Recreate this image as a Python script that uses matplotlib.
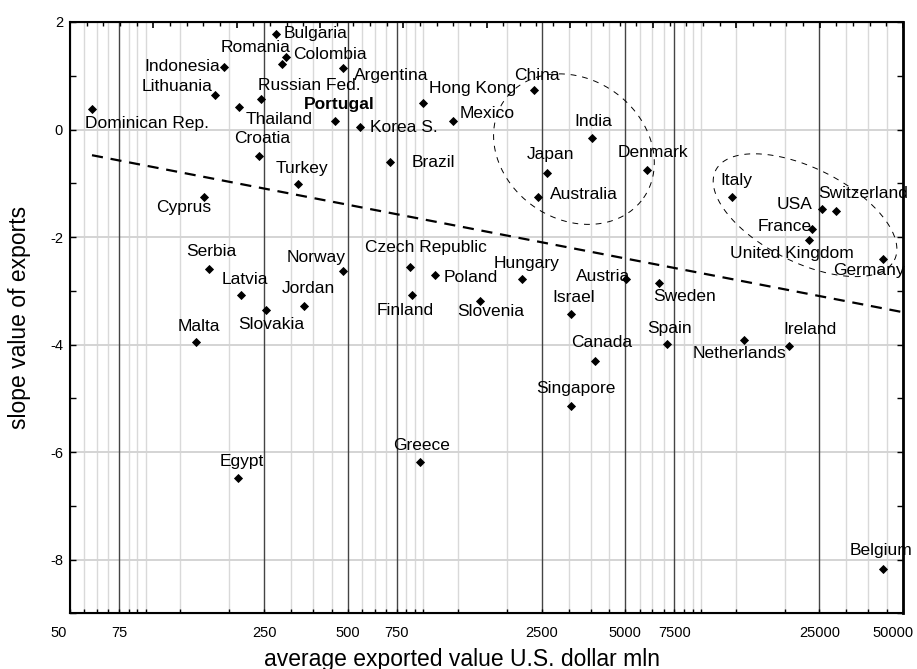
import numpy as np
import matplotlib
matplotlib.use("Agg")
import matplotlib.pyplot as plt
from matplotlib.ticker import FixedLocator, MultipleLocator, NullFormatter
from matplotlib.transforms import ScaledTranslation

plt.rcParams["font.family"] = ["Liberation Sans", "DejaVu Sans"]
plt.rcParams["axes.unicode_minus"] = False

# average exported value (US$ mln) and slope of exports per country
COUNTRIES = [
    "Dominican Rep.", "Indonesia", "Lithuania", "Thailand", "Russian Fed.",
    "Bulgaria", "Romania", "Colombia", "Argentina", "Portugal", "Korea S.",
    "Brazil", "Hong Kong", "Mexico", "Croatia", "Turkey", "Cyprus",
    "China", "India", "Japan", "Australia", "Denmark", "Italy", "USA",
    "Switzerland", "France", "United Kingdom", "Germany", "Hungary",
    "Austria", "Sweden", "Slovenia", "Israel", "Canada", "Spain",
    "Netherlands", "Ireland", "Singapore", "Serbia", "Latvia", "Slovakia",
    "Jordan", "Norway", "Malta", "Czech Republic", "Poland", "Finland",
    "Egypt", "Greece", "Belgium",
]
EXPORT_VALUE = [
    60, 180, 166, 203, 244,
    276, 290, 301, 483, 450, 552,
    710, 931, 1200, 240, 332, 152,
    2349, 3780, 2604, 2429, 5965, 12100, 25450,
    28650, 23430, 22960, 42200, 2126,
    5025, 6590, 1494, 3184, 3897, 7055,
    13365, 19400, 3184, 158, 206, 253,
    349, 481, 142.5, 838, 1031, 854,
    201, 910, 42200,
]
SLOPE = [
    0.38, 1.17, 0.635, 0.417, 0.566,
    1.78, 1.22, 1.354, 1.138, 0.151, 0.039,
    -0.613, 0.492, 0.151, -0.495, -1.022, -1.259,
    0.728, -0.155, -0.806, -1.259, -0.762, -1.259, -1.488,
    -1.520, -1.860, -2.060, -2.40, -2.786,
    -2.78, -2.847, -3.19, -3.425, -4.30, -3.996,
    -3.92, -4.03, -5.138, -2.594, -3.084, -3.35,
    -3.276, -2.624, -3.959, -2.549, -2.706, -3.084,
    -6.49, -6.19, -8.17,
]

# regression line: slope = a + b * log10(value)
TREND_A = 1.30
TREND_B = -1.0
TREND_RANGE = [60, 50000]

X_TICKS = [50, 75, 250, 500, 750, 2500, 5000, 7500, 25000, 50000]
Y_TICKS = [2, 0, -2, -4, -6, -8]

# label placement: offset in pixels from the marker, horizontal alignment
LABEL_POS = {
    "Dominican Rep.": (-7, -14, "left"), "Indonesia": (-4, 0, "right"),
    "Lithuania": (-2, 9, "right"), "Thailand": (7, -12, "left"),
    "Russian Fed.": (-3, 14, "left"), "Bulgaria": (8, 0, "left"),
    "Romania": (9, 16, "right"), "Colombia": (7, 2, "left"),
    "Argentina": (10, -7, "left"), "Portugal": (4, 17, "center"),
    "Korea S.": (10, 0, "left"), "Brazil": (22, 0, "left"),
    "Hong Kong": (6, 15, "left"), "Mexico": (6, 8, "left"),
    "Croatia": (3, 18, "center"), "Turkey": (4, 16, "center"),
    "Cyprus": (-20, -10, "center"), "China": (3, 15, "center"),
    "India": (2, 16, "center"), "Japan": (4, 18, "center"),
    "Australia": (12, 3, "left"), "Denmark": (6, 18, "center"),
    "Italy": (4, 17, "center"), "USA": (-9, 5, "right"),
    "Switzerland": (-18, 18, "left"), "France": (0, 3, "right"),
    "United Kingdom": (-17, -13, "center"), "Germany": (-14, -12, "center"),
    "Hungary": (4, 16, "center"), "Austria": (4, 2, "right"),
    "Sweden": (-5, -14, "left"), "Slovenia": (11, -11, "center"),
    "Israel": (3, 16, "center"), "Canada": (6, 18, "center"),
    "Spain": (3, 16, "center"), "Netherlands": (-4, -13, "center"),
    "Ireland": (21, 17, "center"), "Singapore": (5, 17, "center"),
    "Serbia": (3, 17, "center"), "Latvia": (4, 16, "center"),
    "Slovakia": (6, -15, "center"), "Jordan": (4, 17, "center"),
    "Norway": (3, 13, "right"), "Malta": (3, 16, "center"),
    "Czech Republic": (16, 19, "center"), "Poland": (9, -3, "left"),
    "Finland": (-7, -15, "center"), "Egypt": (4, 17, "center"),
    "Greece": (2, 17, "center"), "Belgium": (-2, 18, "center"),
}


def dashed_ellipse(ax, center, a, b, angle):
    # a, b are semi-axes in screen pixels, angle in degrees
    t = np.linspace(0, 2 * np.pi, 361)
    c, s = np.cos(np.radians(angle)), np.sin(np.radians(angle))
    dx = a * np.cos(t) * c - b * np.sin(t) * s
    dy = a * np.cos(t) * s + b * np.sin(t) * c
    cx, cy = ax.transData.transform(center)
    pts = ax.transData.inverted().transform(np.column_stack([cx + dx, cy + dy]))
    ax.plot(pts[:, 0], pts[:, 1], color="black", lw=0.7, ls=(0, (6, 6)), zorder=3)


fig = plt.figure(figsize=(9.17, 6.69), dpi=100)
ax = fig.add_axes([70 / 917, 1 - 613.3 / 669, 833 / 917, 591.3 / 669])
ax.set_xscale("log")
ax.set_xlim(50, 50000)
ax.set_ylim(-9, 2)
ax.autoscale(False)

# vertical grid: fine lines on a 62.5-based subdivision, dark lines at the labelled ticks
minor_x = sorted({step * k for step in (6.25, 62.5, 625, 6250) for k in range(2, 16)
                  if 50 < step * k < 50000})
major_x = X_TICKS[1:-1]
for v in minor_x:
    if v not in major_x:
        ax.axvline(v, color="#d9d9d9", lw=1.0, zorder=0)
for v in major_x:
    ax.axvline(v, color="#444444", lw=1.0, zorder=1)
for v in Y_TICKS[1:]:
    ax.axhline(v, color="#d4d4d4", lw=1.4, zorder=0.5)

ax.xaxis.set_major_locator(FixedLocator(X_TICKS))
ax.xaxis.set_major_formatter(plt.FixedFormatter([str(v) for v in X_TICKS]))
ax.xaxis.set_minor_locator(FixedLocator(minor_x))
ax.xaxis.set_minor_formatter(NullFormatter())
ax.yaxis.set_major_locator(FixedLocator(Y_TICKS))
ax.yaxis.set_minor_locator(MultipleLocator(1))
ax.tick_params(axis="x", which="both", direction="in", length=3, width=1,
               top=False, pad=9, labelsize=10.5)
ax.tick_params(axis="y", which="both", direction="in", length=4, width=1,
               left=True, right=True, pad=5, labelsize=10.5)
for side in ax.spines.values():
    side.set_linewidth(1.5)
ax.spines["right"].set_linewidth(2)

# keep the two end labels inside the frame
tick_labels = ax.get_xticklabels()
for lab, shift in ((tick_labels[0], -11), (tick_labels[-1], -10)):
    lab.set_transform(lab.get_transform() + ScaledTranslation(shift / 100, 0, fig.dpi_scale_trans))

# top axis carries evenly spaced ticks
top = ax.twiny()
top.set_xlim(0, 50)
top.xaxis.set_major_locator(MultipleLocator(5))
top.xaxis.set_minor_locator(MultipleLocator(1))
top.tick_params(axis="x", which="major", direction="in", length=4, width=1.2,
                labeltop=False)
top.tick_params(axis="x", which="minor", direction="in", length=3, width=1)

tx = np.array(TREND_RANGE, dtype=float)
ax.plot(tx, TREND_A + TREND_B * np.log10(tx), color="black", lw=1.6,
        ls=(0, (5, 3.5)), zorder=3)

ax.plot(EXPORT_VALUE, SLOPE, "D", color="black", ms=4.3, mew=0.6, zorder=4)

for name, xv, yv in zip(COUNTRIES, EXPORT_VALUE, SLOPE):
    dx, dy, ha = LABEL_POS[name]
    ax.annotate(name, (xv, yv), xytext=(dx, dy), textcoords="offset pixels",
                ha=ha, va="center", fontsize=12.5, zorder=5,
                fontweight="bold" if name == "Portugal" else "normal",
                annotation_clip=False)

dashed_ellipse(ax, (3265, -0.365), 85, 70, -35)
dashed_ellipse(ax, (22190, -1.594), 100, 47, -26.6)

ax.set_xlabel("average exported value U.S. dollar mln", fontsize=16.5)
ax.set_ylabel("slope value of exports", fontsize=16.5)
ax.xaxis.set_label_coords(0.4706, -0.058)
ax.yaxis.set_label_coords(-0.047, 0.5)

fig.savefig("out.png", dpi=100)
